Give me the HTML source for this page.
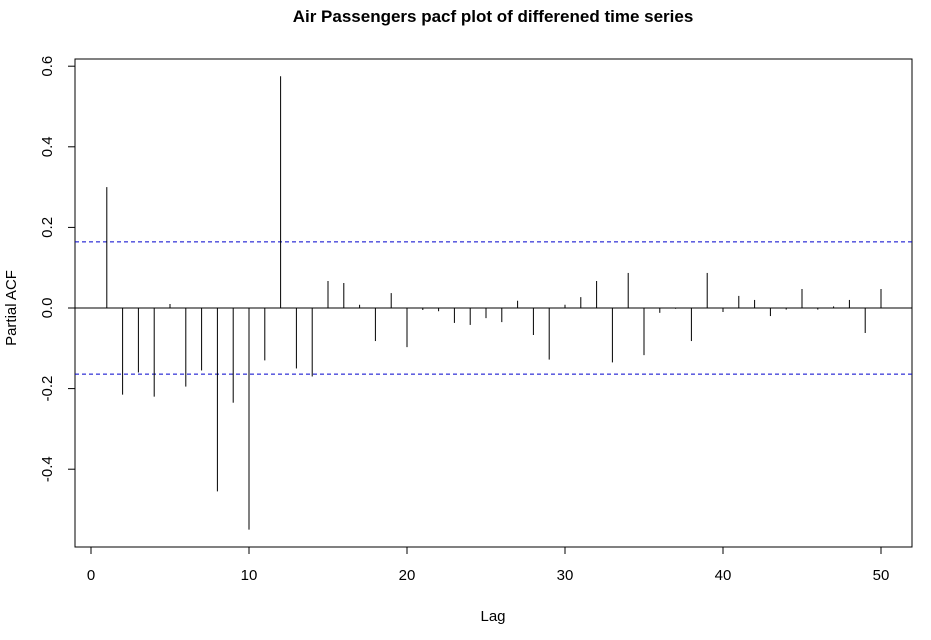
<!DOCTYPE html>
<html><head><meta charset="utf-8"><style>body{margin:0;background:#fff}svg{display:block;font-family:"Liberation Sans",sans-serif}</style></head>
<body>
<svg id="c" width="931" height="640" viewBox="0 0 931 640" xmlns="http://www.w3.org/2000/svg">
<rect width="931" height="640" fill="#fff"/>
<text x="493" y="22" text-anchor="middle" font-weight="bold" font-size="17">Air Passengers pacf plot of differened time series</text>
<text x="493" y="621" text-anchor="middle" font-size="15">Lag</text>
<text transform="translate(16,308) rotate(-90)" text-anchor="middle" font-size="15">Partial ACF</text>
<rect x="75" y="59" width="837" height="488" fill="none" stroke="#000"/>
<g id="g"></g>
</svg>
<script>
const lags=[1,2,3,4,5,6,7,8,9,10,11,12,13,14,15,16,17,18,19,20,21,22,23,24,25,26,27,28,29,30,31,32,33,34,35,36,37,38,39,40,41,42,43,44,45,46,47,48,49,50];
const pacf=[0.30,-0.215,-0.16,-0.22,0.01,-0.195,-0.155,-0.455,-0.235,-0.55,-0.13,0.575,-0.15,-0.17,0.067,0.062,0.008,-0.082,0.037,-0.097,-0.005,-0.008,-0.037,-0.042,-0.025,-0.035,0.018,-0.067,-0.128,0.008,0.027,0.067,-0.135,0.087,-0.117,-0.012,-0.002,-0.082,0.087,-0.01,0.03,0.02,-0.02,-0.004,0.047,-0.004,0.004,0.02,-0.062,0.047];
const ci=[0.164,-0.164];
const xTicks=[0,10,20,30,40,50];
const yTicks=[-0.4,-0.2,0.0,0.2,0.4,0.6];
const X=v=>91+v*15.8, Y=v=>308-v*403;
const g=document.getElementById('g'), NS='http://www.w3.org/2000/svg';
function mk(t,a){const e=document.createElementNS(NS,t);for(const k in a)e.setAttribute(k,a[k]);g.appendChild(e);return e;}
let e=mk('line',{x1:75,x2:912,y1:Y(0),y2:Y(0),stroke:'#000'});


ci.forEach(c=>{const l=mk('line',{x1:75,x2:912,y1:Y(c),y2:Y(c),stroke:'#00c','stroke-dasharray':'4,3'});

});
lags.forEach((k,i)=>{const b=mk('line',{x1:X(k),x2:X(k),y1:Y(0),y2:Y(pacf[i]),stroke:'#000'});

});
xTicks.forEach(t=>{const l=mk('line',{x1:X(t),x2:X(t),y1:547,y2:554,stroke:'#000'});


const s=mk('text',{x:X(t),y:580,'text-anchor':'middle','font-size':'15'});s.textContent=t;

});
mk('line',{x1:X(0),x2:X(50),y1:547,y2:547,stroke:'#000'});
yTicks.forEach(t=>{const l=mk('line',{x1:68,x2:75,y1:Y(t),y2:Y(t),stroke:'#000'});


const s=mk('text',{transform:`translate(52,${Y(t)}) rotate(-90)`,'text-anchor':'middle','font-size':'15'});s.textContent=t.toFixed(1);

});
</script>
</body></html>
